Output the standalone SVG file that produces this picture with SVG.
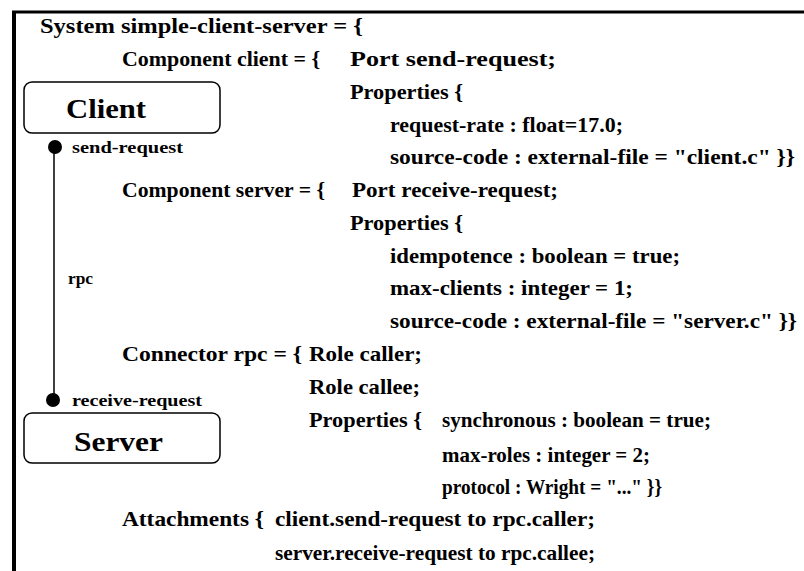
<svg xmlns="http://www.w3.org/2000/svg" width="804" height="571" viewBox="0 0 804 571">
<style>
.t{font-family:"Liberation Serif","Times New Roman",serif;font-weight:bold;font-size:22px;fill:#000}
.s{font-family:"Liberation Serif","Times New Roman",serif;font-weight:bold;font-size:17px;fill:#000}
.big{font-family:"Liberation Serif","Times New Roman",serif;font-weight:bold;font-size:28px;fill:#000}
.box{fill:#fff;stroke:#000;stroke-width:1.5}
.port{fill:#000}
.wire{stroke:#000;stroke-width:1.5;fill:none}
</style>
<rect width="804" height="571" fill="#fff"/>
<g id="frame">
<line x1="12" y1="12" x2="804" y2="12" stroke="#000" stroke-width="3"/>
<line x1="14" y1="11" x2="14" y2="571" stroke="#000" stroke-width="4"/>
</g>
<g id="connectors">
<line class="wire" x1="54" y1="147" x2="54" y2="400"/>
</g>
<g id="client">
<rect class="box" x="24" y="82" width="196" height="51" rx="8"/>
<text class="big" x="66" y="118" textLength="80" lengthAdjust="spacingAndGlyphs">Client</text>
</g>
<g id="server">
<rect class="box" x="24" y="413" width="196" height="50" rx="8"/>
<text class="big" x="74" y="451" textLength="89" lengthAdjust="spacingAndGlyphs">Server</text>
</g>
<g id="port-send-request">
<circle class="port" cx="55" cy="147" r="7"/>
<text class="s" x="72" y="153" textLength="111" lengthAdjust="spacingAndGlyphs">send-request</text>
</g>
<g id="port-receive-request">
<circle class="port" cx="53" cy="400" r="7"/>
<text class="s" x="72" y="406" textLength="130" lengthAdjust="spacingAndGlyphs">receive-request</text>
</g>
<g id="rpc-label">
<text class="s" x="68" y="284" textLength="25" lengthAdjust="spacingAndGlyphs">rpc</text>
</g>
<g id="code">
<text class="t" x="40" y="33" textLength="323" lengthAdjust="spacingAndGlyphs">System simple-client-server = {</text>
<text class="t" x="122" y="66" textLength="198" lengthAdjust="spacingAndGlyphs">Component client = {</text>
<text class="t" x="350" y="66" textLength="206" lengthAdjust="spacingAndGlyphs">Port send-request;</text>
<text class="t" x="350" y="99" textLength="113" lengthAdjust="spacingAndGlyphs">Properties {</text>
<text class="t" x="390" y="132" textLength="233" lengthAdjust="spacingAndGlyphs">request-rate : float=17.0;</text>
<text class="t" x="390" y="164" textLength="405" lengthAdjust="spacingAndGlyphs">source-code : external-file = "client.c" }}</text>
<text class="t" x="122" y="197" textLength="203" lengthAdjust="spacingAndGlyphs">Component server = {</text>
<text class="t" x="352" y="197" textLength="206" lengthAdjust="spacingAndGlyphs">Port receive-request;</text>
<text class="t" x="350" y="230" textLength="113" lengthAdjust="spacingAndGlyphs">Properties {</text>
<text class="t" x="390" y="263" textLength="290" lengthAdjust="spacingAndGlyphs">idempotence : boolean = true;</text>
<text class="t" x="390" y="295" textLength="243" lengthAdjust="spacingAndGlyphs">max-clients : integer = 1;</text>
<text class="t" x="390" y="328" textLength="407" lengthAdjust="spacingAndGlyphs">source-code : external-file = "server.c" }}</text>
<text class="t" x="122" y="361" textLength="180" lengthAdjust="spacingAndGlyphs">Connector rpc = {</text>
<text class="t" x="309" y="361" textLength="113" lengthAdjust="spacingAndGlyphs">Role caller;</text>
<text class="t" x="309" y="394" textLength="111" lengthAdjust="spacingAndGlyphs">Role callee;</text>
<text class="t" x="309" y="427" textLength="113" lengthAdjust="spacingAndGlyphs">Properties {</text>
<text class="t" x="442" y="427" textLength="269" lengthAdjust="spacingAndGlyphs">synchronous : boolean = true;</text>
<text class="t" x="442" y="462" textLength="208" lengthAdjust="spacingAndGlyphs">max-roles : integer = 2;</text>
<text class="t" x="442" y="494" textLength="220" lengthAdjust="spacingAndGlyphs">protocol : Wright = "..." }}</text>
<text class="t" x="122" y="526" textLength="142" lengthAdjust="spacingAndGlyphs">Attachments {</text>
<text class="t" x="275" y="526" textLength="320" lengthAdjust="spacingAndGlyphs">client.send-request to rpc.caller;</text>
<text class="t" x="275" y="560" textLength="320" lengthAdjust="spacingAndGlyphs">server.receive-request to rpc.callee;</text>
</g>
</svg>
